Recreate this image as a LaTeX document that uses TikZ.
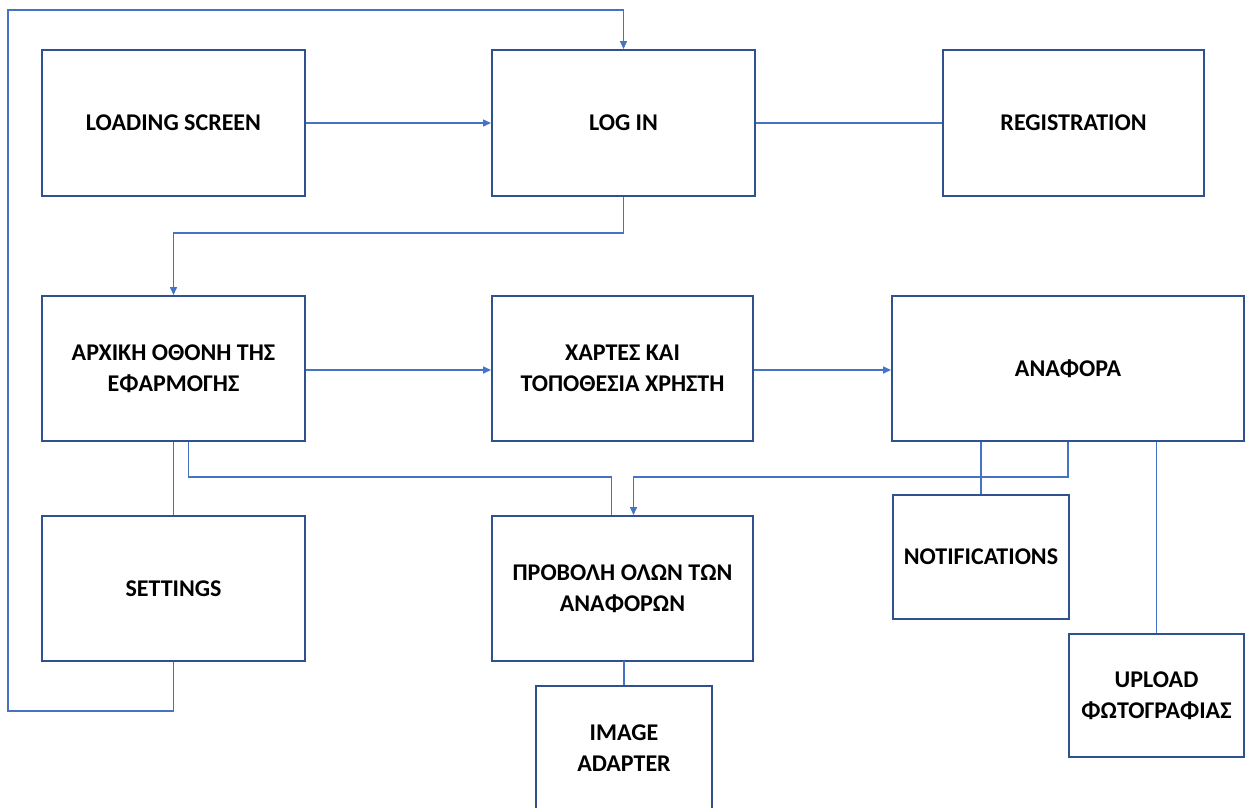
\documentclass[tikz,border=0pt]{standalone}
\usepackage{fontspec}
\setmainfont{Carlito}
\usetikzlibrary{arrows.meta,calc}
\definecolor{boxblue}{HTML}{2F528F}
\definecolor{lineblue}{HTML}{4472C4}
\begin{document}
\begin{tikzpicture}[x=1pt,y=-1pt,
  box/.style={draw=boxblue,line width=2pt,fill=white,anchor=north west,inner sep=0pt,
    align=center,font=\fontsize{24}{31}\selectfont\bfseries},
  conn/.style={draw=lineblue,line width=1.5pt},
  arr/.style={conn,-{Triangle[length=8pt,width=7pt]}}]
\useasboundingbox (0,0) rectangle (1246,807);
\clip (0,0) rectangle (1246,807);
% boxes
\node[box,minimum width=263pt,minimum height=146pt] (loading) at (41,49) {LOADING SCREEN};
\node[box,minimum width=263pt,minimum height=146pt] (login) at (491,49) {LOG IN};
\node[box,minimum width=261pt,minimum height=146pt] (reg) at (942,49) {REGISTRATION};
\node[box,minimum width=263pt,minimum height=145pt] (home) at (41,295) {ΑΡΧΙΚΗ ΟΘΟΝΗ ΤΗΣ\\ΕΦΑΡΜΟΓΗΣ};
\node[box,minimum width=261pt,minimum height=145pt] (maps) at (491,295) {ΧΑΡΤΕΣ ΚΑΙ\\ΤΟΠΟΘΕΣΙΑ ΧΡΗΣΤΗ};
\node[box,minimum width=352pt,minimum height=145pt] (report) at (891,295) {ΑΝΑΦΟΡΑ};
\node[box,minimum width=263pt,minimum height=145pt] (settings) at (41,515) {SETTINGS};
\node[box,minimum width=261pt,minimum height=145pt] (view) at (491,515) {ΠΡΟΒΟΛΗ ΟΛΩΝ ΤΩΝ\\ΑΝΑΦΟΡΩΝ};
\node[box,minimum width=176pt,minimum height=124pt] (notif) at (892,494) {NOTIFICATIONS};
\node[box,minimum width=175pt,minimum height=123pt] (upload) at (1068,633) {UPLOAD\\ΦΩΤΟΓΡΑΦΙΑΣ};
\node[box,minimum width=176pt,minimum height=124pt] (imgad) at (535,685) {IMAGE\\ADAPTER};
% helper coordinates
\coordinate (loopbr) at (settings.south |- 0,711);
\coordinate (loopbl) at (8,711);
\coordinate (looptl) at (8,10);
\coordinate (looptr) at (login.north |- 0,10);
\coordinate (mid1) at (0,233);
\coordinate (mid2) at (0,477);
% connectors
\draw[arr] (loading.east) -- (login.west);
\draw[conn] (login.east) -- (reg.west);
\draw[arr] (login.south) -- (login.south |- mid1) -- (home.north |- mid1) -- (home.north);
\draw[arr] (home.east |- 0,370) -- (maps.west |- 0,370);
\draw[arr] (maps.east |- 0,370) -- (report.west |- 0,370);
\draw[conn] (home.south) -- (settings.north);
\draw[conn] ([xshift=15pt]home.south) -- ([xshift=15pt]home.south |- mid2) -- ([xshift=-11pt]view.north |- mid2) -- ([xshift=-11pt]view.north);
\draw[arr] (report.south) -- (report.south |- mid2) -- ([xshift=11pt]view.north |- mid2) -- ([xshift=11pt]view.north);
\draw[conn] (notif.north |- report.south) -- (notif.north);
\draw[conn] (upload.north |- report.south) -- (upload.north);
\draw[conn] (view.south) -- (view.south -| imgad.north) -- (imgad.north);
\draw[arr] (settings.south) -- (loopbr) -- (loopbl) -- (looptl) -- (looptr) -- (login.north);
\end{tikzpicture}
\end{document}
